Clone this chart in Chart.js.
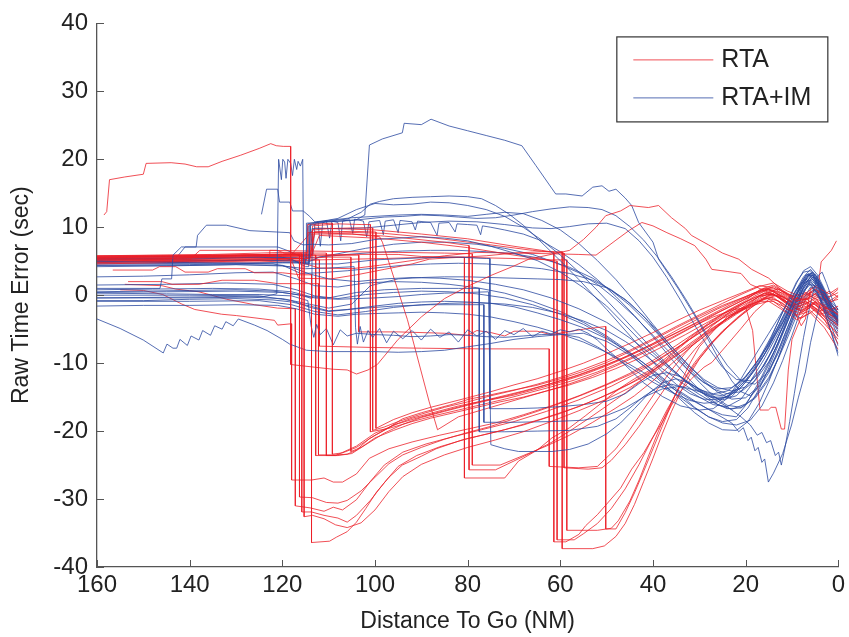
<!DOCTYPE html>
<html>
<head>
<meta charset="utf-8">
<title>Raw Time Error vs Distance To Go</title>
<script src="https://cdn.jsdelivr.net/npm/chart.js@4.4.1/dist/chart.umd.min.js"></script>
<style>
  html, body { margin: 0; padding: 0; background: #fff; }
  #wrap { width: 849px; height: 637px; }
</style>
</head>
<body>
<div id="wrap"><canvas id="chart" width="849" height="637"></canvas></div>
<script>
// axis setup
const xTicks = [160, 140, 120, 100, 80, 60, 40, 20, 0];
const yTicks = [40, 30, 20, 10, 0, -10, -20, -30, -40];
const legendLabels = ['RTA', 'RTA+IM'];

// RTA runs: [distance to go (NM), raw time error (sec)]
const rta01 = [[158.5,11.8],[157.9,12.3],[157.3,17.0],[154,17.4],[150,17.8],[149.4,19.4],[144,19.5],[141,19.3],[138.5,18.9],[136,18.9],[133,19.7],[129,20.6],[125,21.6],[122.5,22.3],[121.3,22.0],[119.8,21.9],[118.2,21.9],[118.2,-10.2],[113,-10.6],[109,-10.9],[106,-11.0],[104,-11.6],[101.5,-11.0],[99.5,-10.2],[95,-6.5],[90,-3.2],[85,-0.5],[80,1.3],[75,2.9],[70,4.3],[66.8,5.3],[62,6.0],[58,6.6],[55,8.2],[52.3,10.0],[50.2,11.7],[47,12.4],[45,13.2],[41,12.9],[38.8,13.2],[36,11.4],[33,9.8],[31.7,8.8],[28,7.4],[25,6.2],[21.5,5.3],[18.7,3.8],[15,2.5],[12,0.6],[9,-0.8],[6,-0.5],[3,-1.8],[0,-2.8]];
const rta02 = [[160,5.6],[150,5.7],[140,5.8],[130,5.9],[122,6.0],[116.3,6.0],[116.3,-29.7],[113.5,-29.8],[110.5,-30.5],[108,-30.6],[106,-30.2],[103,-28.8],[100,-26.8],[97,-24.8],[94,-23.5],[90,-22.4],[85,-21.2],[80,-20.2],[75,-19.3],[70,-18.2],[65,-17.1],[60,-15.9],[55,-14.6],[50,-13.2],[45,-11.7],[40,-9.9],[35,-7.8],[30,-5.6],[25,-3.4],[20,-1.9],[17,-0.8],[14,-0.3],[11,-2.1],[8,-2.6],[5,-1.2],[2,-4.2],[0,-6.1]];
const rta03 = [[160,5.3],[148,5.3],[138,5.6],[128,5.9],[120,6.1],[115.8,6.1],[115.8,-31.9],[113.7,-31.9],[111,-32.4],[108,-32.8],[106,-33.4],[104,-32.4],[101,-30.2],[98,-27.6],[95,-25.2],[91,-23.6],[86,-22.3],[80,-21.1],[72,-19.8],[64,-18.2],[56,-16.4],[48,-14.1],[42,-12.0],[36,-9.3],[31,-7.1],[26,-4.6],[22,-2.8],[18,-1.1],[15,-0.2],[12,-1.2],[9,-2.9],[6,-1.8],[3,-3.6],[0,-7.2]];
const rta04 = [[160,4.8],[150,4.9],[140,5.0],[130,5.2],[120,5.4],[115.3,5.4],[115.3,-32.6],[113.5,-32.4],[111,-32.9],[108.5,-33.8],[106,-34.2],[103,-33.5],[100,-31.6],[97,-28.9],[94,-26.7],[90,-24.9],[85,-23.5],[80,-22.4],[74,-21.3],[68,-20.1],[62,-18.6],[56,-17.0],[50,-15.3],[45,-13.6],[40,-11.4],[35,-8.9],[30,-6.3],[25,-3.9],[21,-2.2],[17,-0.4],[14,0.6],[11,-0.6],[8,-1.8],[5,-0.4],[2,-2.6],[0,-3.9]];
const rta05 = [[156.6,3.7],[148,3.7],[146.5,4.2],[143,4.2],[141,3.4],[136,3.4],[134,3.9],[128,3.9],[126,3.3],[120,3.3],[116,3.0],[113.7,3.0],[113.7,-36.4],[109.8,-36.2],[108.3,-35.6],[106,-34.8],[104,-33.4],[102,-31.4],[99.7,-29.0],[97,-26.8],[94.1,-25.0],[90,-23.7],[86.8,-22.6],[81.2,-21.3],[75,-20.3],[68,-19.1],[60,-17.4],[52,-15.3],[45,-13.0],[40,-11.0],[35,-8.6],[30,-6.1],[26,-4.3],[22,-2.6],[18,-1.4],[15,-0.9],[12,-2.2],[9,-3.6],[6,-2.6],[3,-4.8],[0,-8.0]];
const rta06 = [[153.3,2.0],[146,2.0],[143.8,1.6],[138,1.6],[133,2.2],[126,2.2],[121,1.7],[112.2,1.7],[112.2,-23.5],[108.4,-23.5],[106,-23.4],[104,-22.8],[101.2,-21.1],[97.5,-19.7],[94.1,-18.2],[90,-17.3],[86.8,-16.7],[83,-16.0],[79.7,-15.3],[76,-14.8],[72.6,-14.3],[69,-13.8],[65.3,-13.3],[60,-12.3],[55,-11.2],[50,-9.9],[45,-8.3],[40,-6.6],[35,-4.8],[30,-3.1],[25,-1.5],[20,-0.2],[16,0.9],[13,0.4],[10,-0.9],[7,0.2],[4,-0.8],[2,-2.2],[0,-1.6]];
const rta07 = [[160,5.0],[140,5.2],[137.8,6.6],[121.2,6.6],[119.5,6.2],[110.5,6.2],[110.5,-23.6],[108,-23.6],[105,-23.3],[102,-22.0],[98,-20.3],[94,-19.0],[90,-18.0],[85,-17.1],[80,-16.2],[75,-15.4],[70,-14.7],[65,-13.8],[60,-12.8],[55,-11.7],[50,-10.4],[45,-8.9],[40,-7.3],[35,-5.6],[30,-3.9],[25,-2.2],[21,-0.9],[17,0.5],[14,1.3],[11,0.2],[8,-0.6],[5,0.9],[2,-0.3],[0,0.4]];
const rta08 = [[160,5.8],[135,6.0],[120,6.3],[114.5,6.3],[114.5,10.4],[109.2,10.6],[109.2,-23.4],[107,-23.2],[104,-22.4],[100,-20.6],[96,-19.1],[92,-18.1],[87,-17.2],[82,-16.3],[77,-15.6],[72,-14.9],[67,-14.0],[62,-13.0],[57,-12.0],[52,-10.8],[47,-9.4],[42,-7.8],[37,-6.2],[32,-4.5],[27,-2.7],[23,-1.3],[19,0.0],[16,1.0],[13,0.9],[10,-0.4],[7,-0.6],[4,0.6],[2,-1.0],[0,-0.6]];
const rta09 = [[160,5.4],[130,5.6],[115,5.8],[113.5,5.8],[113.5,9.6],[110,9.8],[105,9.9],[100.5,9.9],[100.5,-19.9],[98,-19.4],[95,-18.6],[90,-17.5],[85,-16.5],[80,-15.7],[75,-14.8],[70,-14.0],[65,-13.1],[60,-12.1],[55,-10.9],[50,-9.6],[45,-8.1],[40,-6.4],[35,-4.6],[30,-2.9],[25,-1.2],[21,0.1],[17,1.3],[14,1.8],[11,0.6],[8,-0.2],[5,1.3],[2,0.2],[0,1.1]];
const rta10 = [[160,4.6],[145,4.8],[130,5.0],[116,5.4],[110,5.6],[105.2,5.6],[105.2,-23.0],[103,-22.4],[100,-21.0],[96,-19.9],[92,-18.9],[88,-18.1],[83,-17.3],[78,-16.5],[73,-15.7],[68,-15.0],[63,-14.1],[58,-13.2],[53,-12.1],[48,-10.8],[43,-9.3],[38,-7.6],[33,-5.8],[28,-3.9],[24,-2.4],[20,-1.0],[16,0.3],[13,-0.1],[10,-1.5],[7,-1.0],[4,-2.4],[2,-1.8],[0,-3.0]];
const rta11 = [[160,5.6],[125,5.9],[114.5,6.1],[114.5,9.2],[105,9.4],[99.8,9.3],[99.8,-19.6],[96,-18.3],[92,-17.3],[88,-16.5],[84,-15.8],[80,-15.1],[75,-14.2],[70,-13.2],[65,-12.3],[60,-11.2],[55,-10.0],[50,-8.6],[45,-7.1],[40,-5.5],[35,-3.8],[30,-2.2],[25,-0.8],[21,0.3],[17,1.4],[14,1.1],[11,-0.3],[8,-1.2],[5,0.2],[2,-1.3],[0,-0.2]];
const rta12 = [[160,5.2],[114,5.4],[113.8,9.0],[105,9.0],[99,8.6],[98.4,7.8],[93,-3.6],[88.3,-15.7],[86.5,-19.8],[82,-17.9],[77,-16.9],[72,-15.9],[66,-14.7],[60,-13.5],[54,-12.1],[48,-10.4],[42,-8.5],[36,-6.4],[31,-4.5],[26,-2.6],[22,-1.2],[18,0.2],[15,0.8],[12,-0.2],[9,-1.7],[6,-0.9],[3,-2.4],[0,-3.6]];
const rta13 = [[160,4.9],[125,5.1],[118,5.1],[116.5,2.5],[109.5,2.4],[104,3.0],[98,3.8],[92,4.6],[88.3,5.3],[84,5.5],[80.7,5.6],[80.7,-26.9],[72,-26.9],[69,-24.4],[65,-22.8],[61.8,-21.0],[58,-19.5],[54.5,-17.7],[51,-15.8],[47.4,-13.8],[44,-12.3],[40.3,-10.9],[36,-8.6],[32,-6.2],[28,-4.1],[24,-2.3],[20,-0.8],[17,0.8],[14,1.5],[11,0.3],[8,-0.9],[5,0.8],[2,-0.9],[0,0.0]];
const rta14 = [[160,5.5],[118,5.8],[114,5.8],[113,9.2],[105,9.0],[98,8.7],[92,8.3],[85,7.8],[79.7,7.3],[79.7,-25.7],[74,-25.7],[70,-24.4],[66,-23.1],[62,-21.7],[58,-20.0],[54,-18.2],[50,-16.3],[46,-14.4],[42,-12.3],[38,-10.0],[34,-7.6],[30,-5.3],[26,-3.3],[22,-1.7],[18,-0.3],[15,0.4],[12,-0.7],[9,-2.1],[6,-1.4],[3,-3.0],[0,-4.4]];
const rta15 = [[160,5.2],[122.7,5.6],[122.7,6.6],[105,6.4],[95,6.3],[85,6.2],[79,6.1],[79,-25.0],[73,-25.0],[68,-23.6],[63,-22.2],[58,-20.6],[53,-18.7],[48,-16.6],[44,-14.8],[40,-12.6],[36,-10.1],[32,-7.7],[28,-5.5],[24,-3.5],[20,-1.8],[17,-0.6],[14,0.2],[11,-1.0],[8,-2.2],[5,-0.9],[2,-2.8],[0,-3.4]];
const rta16 = [[160,5.4],[120,5.7],[103.5,5.9],[103.5,-5.4],[95,-5.4],[85,-5.6],[80,-5.9],[78,-5.2],[75,-5.5],[72,-6.0],[70,-5.3],[65,-5.3],[62,-5.8],[55,-5.0],[50.2,-4.6],[50.2,-34.4],[48,-34.4],[46,-32.0],[44,-29.1],[42,-25.9],[40,-22.6],[38,-19.3],[36,-16.0],[34,-12.8],[32,-10.0],[30,-7.6],[27,-5.3],[24,-3.2],[20,-1.7],[17,-0.1],[14,0.2],[11,-1.4],[8,-2.4],[5,-1.0],[2,-3.4],[0,-4.6]];
const rta17 = [[160,5.7],[118,6.0],[113,9.9],[100,9.6],[90,9.0],[80,8.3],[70,7.2],[64,6.6],[61.4,6.3],[61.4,-36.3],[58.8,-36.3],[56,-35.2],[54.5,-33.9],[52,-32.3],[50.2,-30.9],[47,-28.4],[44.6,-25.6],[42,-23.2],[40.3,-21.2],[38,-18.7],[36,-16.2],[34,-14.1],[31.7,-12.3],[29,-10.6],[27.3,-9.9],[24,-7.3],[21,-4.9],[18,-2.4],[15,-0.6],[12,-1.6],[9,-3.0],[6,-2.3],[3,-4.2],[0,-6.5]];
const rta18 = [[160,5.1],[120,5.4],[114,5.5],[112,8.8],[100,8.4],[90,7.8],[80,7.0],[70,5.9],[62,5.1],[60.7,5.0],[60.7,-36.0],[57,-36.0],[55,-35.1],[52,-33.6],[49,-31.4],[46,-28.5],[43,-24.9],[40,-20.9],[37,-16.9],[34,-13.2],[31,-10.2],[28,-7.6],[25,-5.3],[22,-3.4],[19,-1.7],[16,-0.4],[13,-0.8],[10,-2.2],[7,-1.2],[4,-2.8],[2,-2.4],[0,-3.7]];
const rta19 = [[160,4.7],[125,4.9],[116,5.1],[112,5.2],[98,5.4],[88,5.6],[81,5.6],[76,5.8],[70,6.2],[64,6.4],[59.6,6.4],[59.6,-37.3],[53,-37.3],[50.5,-36.9],[48,-35.5],[46,-33.6],[44,-30.8],[42,-27.4],[40,-24.0],[38,-20.4],[36,-17.1],[34,-14.2],[32,-11.6],[30,-9.4],[27,-6.9],[24,-4.8],[21,-3.0],[18,-1.4],[15,0.0],[12,-0.2],[9,-1.4],[6,-0.1],[3,-1.8],[0,-2.1]];
const rta20 = [[160,5.5],[118,5.9],[104,6.0],[95,6.0],[90,5.7],[83,5.6],[70,5.4],[62,5.2],[58.6,5.2],[58.6,-34.6],[52,-34.6],[49,-34.3],[47.5,-33.2],[45,-30.3],[43,-27.2],[41,-23.7],[39,-20.3],[37,-17.2],[35,-14.4],[33,-12.0],[31,-9.9],[28,-7.4],[25,-5.3],[22,-3.5],[19,-1.9],[16,-0.6],[13,0.1],[10,-1.1],[7,-0.5],[4,-1.9],[2,-1.1],[0,-2.6]];
const rta21 = [[160,5.3],[114,5.6],[113,9.4],[98,9.1],[87,8.4],[75,7.4],[66,6.6],[59.2,6.2],[59.2,-25.4],[54,-25.6],[51,-25.4],[49,-24.3],[46,-22.0],[43,-19.3],[40,-16.3],[37,-13.3],[34,-10.5],[31,-8.0],[28,-5.8],[25,-4.0],[22,-2.4],[19,-1.0],[16,0.3],[13,0.9],[10,-0.2],[7,0.4],[4,-0.5],[2,0.6],[0,-0.3]];
const rta22 = [[160,5.0],[118,5.2],[112,4.0],[105,3.9],[99,4.4],[92,5.1],[85,5.8],[78,6.3],[70,6.2],[62,6.1],[56,6.0],[52.3,5.9],[48,8.1],[45,9.6],[42.4,10.7],[40,10.2],[37,9.2],[34,8.3],[31,7.3],[28.6,5.3],[27.3,3.8],[24,3.5],[21,3.2],[19,1.6],[16,0.7],[13,-0.2],[10,-1.6],[7,-0.9],[4,-2.3],[2,-1.4],[0,-2.2]];
const rta23 = [[160,5.6],[117,5.9],[112.8,5.9],[112.8,-23.6],[108.5,-23.6],[104,-22.2],[100,-20.3],[95,-18.9],[90,-17.9],[85,-17.0],[80,-16.1],[74,-15.1],[68,-14.1],[62,-13.0],[56,-11.7],[50,-10.2],[45,-8.8],[40,-7.1],[35,-5.2],[30,-3.4],[26,-2.0],[22,-0.8],[18,0.4],[15,0.9],[12,-0.4],[9.5,-2.3],[8,-4.5],[7.1,-3.5],[6,1.0],[4.3,1.5],[3.7,4.9],[1.5,6.6],[0.4,8.0]];
const rta24 = [[160,5.8],[116,6.0],[113.5,6.0],[113.5,10.2],[108,10.5],[103,10.4],[101,10.4],[101,-20.1],[97,-19.6],[92,-18.6],[87,-17.7],[82,-16.9],[77,-16.1],[72,-15.3],[67,-14.4],[62,-13.5],[57,-12.5],[52,-11.3],[47,-9.9],[42,-8.3],[37,-6.6],[32,-4.8],[27,-3.2],[23,-2.2],[20,-1.8],[18.5,-5.2],[16.9,-16.9],[15.1,-16.9],[14.5,-16.5],[13.5,-16.5],[12.3,-19.7],[11.6,-19.7],[10.8,-11.0],[10,-6.5],[8,-3.2],[6,-1.6],[3,-3.2],[0,-5.0]];
const rta25 = [[160,5.0],[112,5.2],[112,-7.5],[100,-7.7],[90,-7.8],[77.5,-7.9],[62.4,-7.9],[62.4,-25.2],[56,-25.4],[52,-25.2],[48,-22.6],[45,-19.8],[42,-16.8],[39,-13.8],[36,-11.0],[33,-8.5],[30,-6.3],[27,-4.4],[24,-2.8],[21,-1.4],[18,-0.1],[15,0.9],[12,0.3],[9,-0.9],[6,0.5],[3,-0.8],[0,0.9]];
const rta26 = [[155,0.8],[150,0.7],[145.8,0.1],[141.7,-1.3],[138.9,-2.1],[133.1,-2.8],[129.9,-3.0],[121.7,-3.7],[121,-4.4],[118,-4.2],[118,-27.2],[113.7,-27.2],[111,-26.9],[109,-27.5],[107,-27.5],[104,-26.3],[101.2,-24.0],[97,-22.6],[92,-21.6],[86,-20.6],[80,-19.7],[74,-18.8],[68,-17.6],[62,-16.3],[56,-14.8],[50,-13.1],[45,-11.5],[40,-9.6],[35,-7.4],[30,-5.1],[25,-3.1],[21,-1.6],[17,-0.2],[14,0.2],[11,-1.3],[8,-2.3],[5,-1.1],[2,-3.1],[0,-4.2]];
const rta27 = [[154,1.6],[146,1.4],[143,0.9],[138,0.5],[132,-0.6],[126,-1.4],[121,-1.9],[117.2,-2.0],[117.2,-31.0],[114,-31.3],[111,-31.8],[109,-31.2],[107,-31.6],[104,-30.1],[101,-27.4],[98,-25.0],[94,-23.1],[89,-21.9],[83,-20.8],[77,-19.8],[70,-18.6],[63,-17.1],[56,-15.4],[49,-13.4],[43,-11.3],[38,-9.2],[33,-6.9],[28,-4.6],[24,-2.9],[20,-1.6],[17,-0.9],[14,-0.9],[11,-2.5],[8,-3.4],[5,-2.1],[2,-4.4],[0,-5.6]];

// RTA+IM runs
const imRun01 = [[160,-0.4],[140,-0.4],[130,-0.3],[124,-0.2],[121.2,0.2],[120.8,20.0],[120.2,17.0],[119.9,20.0],[119.5,19.6],[119.2,17.2],[118.8,20.0],[118.2,19.4],[117.8,17.6],[117.4,20.0],[116.9,18.5],[116.6,19.7],[116.1,19.0],[115.6,20.0],[115.4,4.6],[114.2,4.6],[114.0,10.4],[112,10.8],[108,10.9],[104,11.1],[103.5,11.3],[102.2,11.8],[101.2,22.1],[98.4,23.0],[94.1,23.9],[93.7,25.3],[90,25.1],[87.9,25.9],[84,24.9],[80,24.2],[76,23.5],[72,22.8],[68.3,22.0],[65.3,19.1],[61,14.9],[58.8,14.9],[55.3,14.6],[53,15.9],[51,16.1],[49.5,15.3],[48,15.6],[46,14.3],[44.6,13.2],[43.1,10.7],[40,7.8],[38.8,5.3],[34.5,0.9],[30.1,-4.0],[25.8,-9.4],[23,-12.6],[21,-14.2],[19,-14.8],[17,-13.5],[15,-11.4],[13,-8.2],[11,-4.8],[9,-1.6],[7.5,1.2],[6,2.8],[5,3.1],[3.5,1.4],[2,-0.8],[0,-2.6]];
const imRun02 = [[124.5,11.9],[123.4,15.6],[121,15.6],[120.6,13.7],[118.4,13.7],[117.8,12.4],[115.5,12.4],[114.1,11.6],[113,10.8],[110,11.0],[105,11.4],[100,11.6],[95,11.8],[90,11.9],[85,11.8],[80,11.6],[76,11.9],[72,12.2],[68,12.0],[64,11.0],[60,9.6],[56,7.6],[52,5.1],[48,2.3],[44,-0.9],[40,-4.3],[36,-7.6],[32,-10.5],[29,-12.4],[26,-13.6],[23,-14.1],[20,-13.5],[17,-11.3],[14,-7.8],[12,-4.6],[10,-1.3],[8,1.3],[6,2.6],[4.5,1.8],[3,-0.6],[1.5,-2.2],[0,-3.4]];
const imRun03 = [[160,1.0],[146.4,1.0],[146,2.4],[143.9,2.4],[143.6,5.9],[141.8,7.1],[138.6,7.1],[138.3,8.8],[136.4,10.3],[132.1,10.3],[127,9.5],[121.2,9.3],[118.4,9.2],[117.5,8.0],[115.5,7.4],[113.5,7.5],[110,7.4],[105,7.6],[100,8.2],[95,8.4],[90,8.6],[85,8.4],[80,8.0],[75,7.2],[70,6.2],[65,5.1],[60,3.4],[55,1.1],[50,-1.6],[46,-4.4],[42,-7.2],[38,-9.7],[34,-12.0],[31,-13.8],[28,-14.9],[25,-15.4],[22,-14.8],[19,-12.7],[16,-9.4],[13,-5.6],[11,-2.6],[9,0.2],[7,2.0],[5.5,2.3],[4,0.6],[2,-2.1],[0,-4.3]];
const imRun04 = [[160,-3.5],[155,-4.9],[150,-6.6],[145.7,-8.5],[144.9,-7.2],[143.6,-7.8],[142.8,-7.8],[142.1,-6.5],[140.5,-7.4],[139.7,-6.0],[138,-6.6],[137.2,-5.2],[135.5,-5.9],[134.6,-4.5],[133,-5.0],[132.2,-3.9],[130.6,-4.5],[129.5,-3.5],[126,-4.4],[123.3,-5.2],[120,-6.5],[118.4,-7.2],[114.8,-8.1],[110,-8.3],[104,-8.3],[100,-8.3],[95,-8.4],[90,-8.3],[85,-8.1],[80,-7.6],[75,-7.1],[70,-6.5],[65,-6.1],[60,-5.8],[55,-5.6],[50,-6.8],[45,-8.8],[40,-11.5],[36,-13.6],[32,-15.3],[28,-16.8],[25,-17.6],[22,-17.9],[20,-16.2],[17,-12.6],[14,-8.5],[12,-5.4],[10,-2.3],[8,0.3],[6,1.6],[4,-0.4],[2,-4.5],[0,-8.5]];
const imRun05 = [[160,-0.8],[150,-0.8],[140,-0.6],[130,-0.5],[122,-0.7],[118,-1.0],[114,-1.6],[110,-2.3],[106,-2.1],[100,-1.6],[95,-1.2],[90,-1.0],[85,-0.9],[80,-1.0],[75,-1.2],[70,-1.7],[65,-2.6],[60,-3.6],[55,-4.8],[50,-6.4],[45,-8.5],[40,-11.0],[35,-13.8],[30,-16.0],[26,-17.6],[23,-18.8],[21.5,-20.1],[20.5,-19.5],[19.5,-21.4],[18.8,-20.9],[18,-22.9],[17.3,-22.4],[16.5,-24.6],[15.9,-24.1],[15.1,-27.5],[14,-26.2],[12,-23.3],[10.1,-19.1],[8.6,-15.0],[7.1,-11.3],[6,-7.0],[5,-4.0],[4,-1.5],[3,0.4],[2,-0.9],[1,-2.6],[0,-4.0]];
const imRun06 = [[160,5.0],[150,4.9],[140,4.8],[130,4.7],[122,4.6],[118,4.1],[114,3.1],[110,2.4],[104,2.0],[98,2.4],[92,2.6],[86,2.5],[80,2.2],[74,1.6],[68,0.8],[62,-0.4],[56,-2.0],[50,-4.0],[45,-6.3],[40,-8.9],[35,-11.6],[31,-13.7],[27,-15.2],[24,-16.4],[21,-17.9],[19,-19.1],[17.5,-20.6],[16.5,-20.2],[15.5,-21.7],[14.6,-21.4],[13.6,-23.6],[12.9,-23.1],[12.3,-25.0],[11.5,-22.4],[10.5,-18.6],[9.5,-14.5],[8.5,-10.2],[7.5,-6.2],[6.5,-2.7],[5.5,0.2],[4.5,2.8],[3.5,3.4],[2.5,1.7],[1.2,-0.8],[0,-2.2]];
const imRun07 = [[160,4.4],[140,4.4],[130,4.5],[120,4.3],[115,3.9],[110,4.0],[104.5,4.2],[104.2,-4.8],[103.8,-7.2],[103.2,-4.6],[102.5,-6.9],[101.5,-5.2],[100.5,-6.2],[99,-4.9],[97.5,-7.0],[96,-5.3],[94,-6.4],[92,-5.2],[90,-6.6],[88,-5.0],[86,-6.2],[84,-5.4],[82,-6.9],[80,-5.1],[78,-6.0],[76,-5.3],[74,-6.5],[72,-5.2],[70,-5.8],[68,-4.9],[66,-6.1],[64,-5.3],[62,-5.7],[60,-5.1],[58,-5.4],[56,-5.0],[54,-5.6],[52,-6.6],[50,-7.9],[46,-10.3],[42,-12.9],[38,-14.9],[34,-16.3],[30,-16.9],[27,-16.7],[24,-15.2],[21,-12.3],[18,-8.9],[15,-5.6],[13,-3.4],[11,-1.2],[9,0.9],[7,2.4],[5,1.2],[3,-1.8],[1.5,-4.6],[0,-7.5]];
const imRun08 = [[160,0.3],[145,0.2],[135,0.1],[125,0.1],[118,-0.1],[115.5,-0.6],[114.5,-0.8],[113.8,-4.5],[113.2,-6.2],[112.6,-4.3],[111.8,-5.8],[110.5,-4.9],[109,-7.3],[107.5,-5.1],[106,-6.0],[104,-5.6],[100,-5.8],[96,-5.9],[92,-6.1],[88,-6.0],[84,-5.8],[80,-5.9],[76,-6.1],[72,-6.2],[68,-6.0],[64,-5.8],[60,-5.7],[56,-6.2],[52,-7.6],[48,-9.3],[44,-11.0],[40,-12.8],[36,-14.3],[32,-15.5],[29,-15.9],[26,-15.7],[23,-14.4],[20,-12.1],[17,-9.3],[14,-6.2],[12,-4.0],[10,-1.6],[8,0.6],[6.5,1.9],[5,0.8],[3.5,-1.0],[2,-3.0],[0,-5.4]];
const imRun09 = [[160,0.5],[150,0.6],[140,0.7],[130,0.8],[122,0.6],[117,0.1],[113,-0.4],[108,-0.6],[100,-0.4],[95,-0.2],[90,0.1],[85,0.3],[80,0.4],[75.5,0.5],[75,-22.0],[72,-22.6],[69,-23.0],[65,-23.0],[61.8,-23.0],[58,-22.7],[54,-21.9],[50,-20.4],[47,-18.8],[44,-16.7],[41,-14.5],[38,-12.9],[35,-12.3],[32,-13.0],[29,-14.3],[26,-15.2],[23,-14.9],[20,-12.8],[17,-9.9],[14,-6.4],[12,-3.9],[10,-1.2],[8,1.4],[6,3.3],[4.5,2.2],[3,0.3],[1.5,-2.0],[0,-3.6]];
const imRun10 = [[160,4.8],[140,5.0],[125,5.2],[118,5.0],[114,4.6],[108,4.6],[100,5.2],[90,5.5],[82,5.6],[76,5.4],[75.2,5.4],[75.2,-16.7],[70,-16.7],[65,-16.6],[60,-16.4],[55,-16.1],[50,-15.6],[46,-14.5],[43,-13.0],[40,-11.8],[37,-11.4],[34,-12.0],[31,-13.4],[28,-14.5],[25,-14.8],[22,-13.9],[19,-11.8],[16,-8.8],[13.5,-5.3],[11.5,-2.6],[9.5,0.3],[7.5,2.7],[6,3.8],[4.5,2.6],[3,0.6],[1.5,-1.3],[0,-2.8]];
const imRun11 = [[160,0.0],[140,0.0],[125,-0.1],[118,-0.8],[114,-1.8],[110,-2.4],[104,-2.0],[96,-1.6],[88,-1.4],[80,-1.4],[76.5,-1.4],[76.5,-18.7],[70,-18.7],[62,-18.6],[55,-18.4],[50,-17.7],[46,-16.6],[42,-15.0],[38,-13.8],[34,-13.4],[30,-14.2],[27,-15.0],[24,-15.0],[21,-13.6],[18,-11.0],[15,-7.7],[13,-4.9],[11,-2.2],[9,0.4],[7,2.6],[5.5,3.4],[4,1.9],[2.5,-0.3],[1,-1.9],[0,-3.0]];
const imRun12 = [[160,0.8],[148,0.9],[135,1.0],[125,0.9],[118,0.5],[114,-0.2],[110,-0.4],[104,0.4],[98,0.8],[90,1.0],[82,1.0],[77.5,1.0],[77.5,-20.1],[72,-20.1],[65,-20.0],[58,-19.9],[52,-19.3],[48,-18.2],[45,-16.6],[42,-14.9],[39,-13.6],[36,-13.1],[33,-13.7],[30,-15.0],[27,-16.1],[24,-16.4],[21,-15.3],[18,-12.5],[15,-9.0],[13,-6.1],[11,-3.4],[9,-0.8],[7,1.5],[5.5,2.7],[4,1.4],[2.5,-1.0],[1,-2.9],[0,-4.4]];
const imRun13 = [[160,5.2],[140,5.3],[125,5.6],[118,5.3],[115,4.2],[114.3,4.2],[114.3,10.2],[110,10.9],[106,11.2],[103,12.2],[101,13.4],[99,13.8],[96,14.2],[92,14.4],[88,14.5],[84,14.6],[80,14.5],[77,14.2],[74,13.2],[71,11.9],[68,10.3],[65,8.4],[62,6.4],[59,4.4],[56,2.3],[53,0.1],[50,-2.1],[47,-4.4],[44,-6.7],[41,-9.1],[38,-11.3],[35,-13.1],[32,-14.5],[29,-15.3],[26,-15.4],[23,-14.6],[20,-12.5],[17,-9.6],[14.5,-6.3],[12.5,-3.2],[10.5,-0.2],[9,2.0],[7.5,3.4],[6,3.6],[4.5,2.0],[3,-0.2],[1.5,-2.0],[0,-3.6]];
const imRun14 = [[160,4.6],[135,4.7],[120,4.8],[115,4.7],[114.5,10.5],[108,11.3],[104,12.6],[100,13.5],[96,13.3],[92,13.4],[88,13.7],[84,13.6],[80,13.2],[76,12.6],[72,11.6],[68,10.0],[64,8.1],[60,5.9],[56,3.4],[52,0.7],[48,-2.2],[44,-5.1],[40,-8.0],[36,-10.8],[33,-12.6],[30,-13.9],[27,-14.5],[24,-14.1],[21,-12.7],[18,-10.3],[15,-7.1],[13,-4.6],[11,-1.8],[9,0.8],[7,2.9],[5.5,3.3],[4,1.6],[2.5,-0.5],[1,-2.4],[0,-3.3]];
const imRun15 = [[160,5.4],[140,5.5],[125,5.6],[117,5.5],[114.8,5.2],[114.8,10.6],[105,11.0],[98,11.5],[94,11.6],[90,11.8],[86,11.7],[82,11.5],[78,11.3],[74,11.4],[70,11.8],[66,12.3],[62,12.7],[58,13.0],[54,12.9],[51,12.6],[48,11.7],[45,10.1],[42,8.1],[39,5.6],[36,2.7],[33,-0.5],[30,-3.9],[27,-7.3],[24,-10.3],[21,-12.6],[18,-13.1],[15,-11.2],[13,-8.6],[11,-5.3],[9,-2.0],[7.5,0.6],[6,2.2],[4.5,1.4],[3,-0.7],[1.5,-2.6],[0,-4.0]];
const imRun16 = [[160,0.4],[145,0.5],[130,0.6],[120,0.4],[116,0.0],[113.6,-0.5],[113.6,9.8],[106,9.8],[102,9.9],[96,10.3],[90,10.7],[84,10.9],[78,10.8],[72,10.4],[66,9.9],[62,9.8],[58,10.1],[54,10.5],[50,10.6],[46,9.8],[43,8.0],[40,5.6],[37,2.6],[34,-0.8],[31,-4.4],[28,-7.8],[25,-10.6],[22,-12.4],[19,-12.6],[16,-10.4],[14,-7.8],[12,-4.6],[10,-1.4],[8.5,1.2],[7,3.0],[5.5,2.9],[4,1.0],[2.5,-1.1],[1,-2.8],[0,-3.8]];
const imRun17 = [[160,-0.4],[145,-0.3],[130,-0.2],[120,-0.5],[115,-1.2],[110,-1.9],[105,-1.3],[101,1.4],[95,2.4],[90,2.6],[85,2.7],[80,2.7],[75,2.6],[70,2.5],[65,2.4],[60,2.3],[55,2.0],[50,1.1],[46,-0.6],[42,-3.1],[38,-6.3],[34,-9.8],[30,-12.8],[27,-14.8],[24,-16.2],[21,-16.5],[18,-15.2],[15,-12.4],[13,-9.3],[11,-5.8],[9,-2.4],[7.5,0.4],[6,2.0],[4.5,1.0],[3,-1.0],[1.5,-3.0],[0,-4.6]];
const imRun18 = [[160,4.2],[145,4.3],[130,4.5],[120,4.4],[116,3.2],[112,3.3],[106,3.6],[100,4.0],[94,4.4],[88,4.6],[82,4.7],[76,4.6],[70,4.3],[64,3.9],[58,3.2],[53,2.2],[49,0.8],[45,-1.2],[41,-3.8],[37,-6.8],[33,-9.9],[29,-12.6],[26,-14.3],[23,-15.3],[20,-15.1],[17,-13.3],[14.5,-10.4],[12.5,-7.4],[10.5,-4.0],[9,-1.2],[7.5,1.3],[6,2.6],[4.5,1.6],[3,-0.4],[1.5,-2.3],[0,-3.8]];
const imRun19 = [[160,-0.9],[140,-0.9],[125,-0.8],[118,-1.4],[113,-2.4],[108,-2.9],[102,-2.4],[96,-1.8],[90,-1.4],[84,-1.2],[78,-1.1],[72,-1.3],[66,-1.8],[60,-2.7],[55,-3.8],[50,-5.2],[46,-6.8],[42,-8.7],[38,-10.8],[34,-12.8],[30,-14.6],[27,-15.8],[24,-16.7],[21,-16.6],[18,-15.0],[15,-12.1],[13,-9.4],[11,-6.3],[9,-3.0],[7.5,-0.5],[6,1.2],[4.5,0.4],[3,-2.2],[1.5,-5.6],[0,-9.0]];
const imRun20 = [[160,5.6],[145,5.7],[130,5.8],[121,5.8],[117,5.0],[114,5.0],[112,5.6],[106,6.0],[100,6.3],[94,6.5],[88,6.6],[82,6.6],[76,6.4],[70,6.1],[64,5.4],[58,4.1],[53,2.5],[49,0.7],[45,-1.5],[41,-4.2],[37,-7.2],[33,-10.2],[30,-12.3],[27,-13.8],[24,-14.5],[21,-14.2],[18,-12.6],[15,-9.8],[13,-7.1],[11,-3.9],[9,-0.7],[7.5,1.7],[6,3.1],[4.5,2.3],[3,0.1],[1.5,-1.8],[0,-3.2]];
const imRun21 = [[160,1.5],[145,1.6],[132,1.8],[122,1.6],[117,0.8],[113,-0.1],[108,-0.5],[102,0.1],[96,0.4],[90,0.6],[84,0.5],[78,0.2],[72,-0.4],[66,-1.4],[60,-2.8],[55,-4.3],[50,-6.2],[46,-8.1],[42,-10.4],[38,-12.9],[34,-15.4],[31,-17.3],[28,-18.8],[25,-19.8],[22,-19.9],[19.5,-18.6],[17,-15.8],[15,-12.7],[13,-9.3],[11,-5.6],[9.5,-2.8],[8,-0.4],[6.5,1.6],[5,1.4],[3.5,-0.7],[2,-2.7],[0,-5.0]];
const imRun22 = [[160,2.7],[150,2.8],[140,3.0],[130,3.3],[122,3.4],[117,2.4],[113,1.4],[108,1.2],[102,1.8],[96,2.0],[90,1.9],[84,1.6],[78,1.1],[72,0.3],[66,-0.9],[60,-2.4],[55,-4.0],[50,-6.0],[46,-7.9],[42,-10.0],[38,-12.3],[34,-14.7],[31,-16.5],[28,-17.9],[25,-18.6],[22,-18.3],[19.5,-16.6],[17,-13.7],[15,-10.7],[13,-7.4],[11,-4.0],[9.5,-1.3],[8,1.0],[6.5,2.9],[5,2.5],[3.5,0.6],[2,-1.3],[0,-3.1]];
const imRun23 = [[160,-1.6],[150,-1.5],[140,-1.5],[130,-1.4],[121,-1.5],[117,-2.0],[113,-2.8],[108,-3.1],[104,-2.8],[100,-2.7],[95,-2.6],[90,-2.5],[85,-2.6],[80,-2.8],[75,-3.2],[70,-3.9],[65,-4.7],[60,-5.7],[55,-6.9],[50,-8.4],[46,-9.8],[42,-11.4],[38,-13.2],[34,-15.1],[31,-16.6],[28,-17.9],[25,-18.8],[22,-19.1],[19,-18.4],[16.5,-16.3],[14,-12.9],[12,-9.6],[10,-5.9],[8.5,-3.0],[7,-0.4],[5.5,0.8],[4,-0.6],[2.5,-2.7],[1,-4.6],[0,-6.1]];
const imRun24 = [[160,5.3],[150,5.4],[143,5.4],[141,7.1],[121,7.1],[119,6.6],[116,5.7],[113,5.5],[108,6.1],[102,6.9],[96,7.5],[90,7.8],[84,7.8],[78,7.5],[72,6.9],[66,6.0],[61,4.8],[56,3.3],[52,1.6],[48,-0.6],[44,-3.1],[40,-5.9],[36,-8.7],[32,-11.3],[29,-12.9],[26,-13.8],[23,-13.6],[20,-12.0],[17,-9.2],[14.5,-6.1],[12.5,-3.2],[10.5,-0.4],[9,1.8],[7.5,3.6],[6,4.2],[4.5,3.0],[3,0.9],[1.5,-1.0],[0,-2.1]];
const imRun25 = [[160,4.4],[140,4.5],[125,4.7],[117,4.8],[114.2,4.8],[114,10.2],[113.4,6.0],[113,10.4],[112.3,10.8],[111.8,7.2],[111.3,10.6],[110.5,11.0],[109.8,8.4],[109.3,10.9],[108,10.7],[107.4,8.0],[107,10.9],[105.5,11.1],[104.8,9.1],[104.4,11.2],[102.5,10.9],[101.8,8.6],[101.3,10.8],[99,11.0],[98.2,8.9],[97.8,10.9],[96,11.1],[95,9.2],[94.6,11.0],[92,10.8],[91.3,9.6],[90.8,10.9],[88,10.7],[86.6,8.8],[86.2,10.6],[84,10.7],[82.7,9.3],[82.3,10.5],[80,10.4],[78,10.3],[77.2,8.9],[76.8,10.2],[75,10.0],[72,9.6],[68,9.0],[64,8.0],[60,6.4],[56,4.5],[52,2.3],[48,-0.2],[44,-3.0],[40,-6.1],[36,-9.4],[32,-12.5],[29,-14.6],[26,-16.1],[23,-16.8],[20,-16.0],[17.5,-13.6],[15,-10.2],[13,-7.0],[11,-3.5],[9.5,-0.8],[8,1.6],[6.5,3.2],[5,2.2],[3.5,0.0],[2,-2.0],[0,-4.0]];

const rtaRuns = [rta01, rta02, rta03, rta04, rta05, rta06, rta07, rta08, rta09, rta10, rta11, rta12, rta13, rta14,
                 rta15, rta16, rta17, rta18, rta19, rta20, rta21, rta22, rta23, rta24, rta25, rta26, rta27];
const imRuns = [imRun01, imRun02, imRun03, imRun04, imRun05, imRun06, imRun07, imRun08, imRun09, imRun10, imRun11, imRun12,
                imRun13, imRun14, imRun15, imRun16, imRun17, imRun18, imRun19, imRun20, imRun21, imRun22, imRun23, imRun24, imRun25];

const RED = 'rgba(236, 30, 38, 0.78)';
const BLUE = 'rgba(44, 74, 160, 0.8)';
const AXIS_COLOR = '#555';
const TEXT_COLOR = '#222';
const FONT = "'Liberation Sans', Arial, Helvetica, sans-serif";

// interleave the two groups so neither one is completely hidden under the other
const datasets = [];
const n = Math.max(rtaRuns.length, imRuns.length);
for (let i = 0; i < n; i++) {
    if (i < rtaRuns.length) {
        datasets.push({ label: legendLabels[0], data: rtaRuns[i], borderColor: RED });
    }
    if (i < imRuns.length) {
        datasets.push({ label: legendLabels[1], data: imRuns[i], borderColor: BLUE });
    }
}
datasets.forEach(ds => {
    ds.borderWidth = 1;
    ds.pointRadius = 0;
    ds.fill = false;
    ds.tension = 0;
    ds.showLine = true;
});

// small ticks pointing into the plot, as in the original figure
const innerTicks = {
    id: 'innerTicks',
    afterDraw(chart) {
        const ctx = chart.ctx;
        const x = chart.scales.x, y = chart.scales.y;
        const area = chart.chartArea;
        ctx.save();
        ctx.strokeStyle = AXIS_COLOR;
        ctx.lineWidth = 1;
        ctx.beginPath();
        xTicks.forEach(v => {
            const px = Math.round(x.getPixelForValue(v)) + 0.5;
            ctx.moveTo(px, area.bottom);
            ctx.lineTo(px, area.bottom - 7);
        });
        yTicks.forEach(v => {
            const py = Math.round(y.getPixelForValue(v)) + 0.5;
            ctx.moveTo(area.left, py);
            ctx.lineTo(area.left + 7, py);
        });
        ctx.stroke();
        ctx.restore();
    }
};

// boxed legend inside the top-right corner
const boxLegend = {
    id: 'boxLegend',
    afterDraw(chart) {
        const ctx = chart.ctx;
        const area = chart.chartArea;
        const bx = area.right - 222, by = area.top + 13, bw = 211, bh = 85;
        ctx.save();
        ctx.fillStyle = '#fff';
        ctx.fillRect(bx, by, bw, bh);
        ctx.strokeStyle = '#333';
        ctx.lineWidth = 1.2;
        ctx.strokeRect(bx + 0.5, by + 0.5, bw, bh);
        const rows = [[legendLabels[0], RED, by + 23], [legendLabels[1], BLUE, by + 61]];
        ctx.font = '25px ' + FONT;
        ctx.textBaseline = 'middle';
        ctx.textAlign = 'left';
        rows.forEach(([text, color, ry]) => {
            ctx.strokeStyle = color;
            ctx.lineWidth = 1;
            ctx.beginPath();
            ctx.moveTo(bx + 17, ry + 0.5);
            ctx.lineTo(bx + 97, ry + 0.5);
            ctx.stroke();
            ctx.fillStyle = TEXT_COLOR;
            ctx.fillText(text, bx + 105, ry + 1);
        });
        ctx.restore();
    }
};

new Chart(document.getElementById('chart'), {
    type: 'line',
    data: { datasets: datasets },
    plugins: [innerTicks, boxLegend],
    options: {
        responsive: false,
        animation: false,
        events: [],
        layout: { padding: { left: 0, right: 9, top: 21, bottom: 0 } },
        plugins: {
            legend: { display: false },
            tooltip: { enabled: false }
        },
        scales: {
            x: {
                type: 'linear',
                reverse: true,
                min: 0,
                max: 160,
                afterFit: scale => { scale.height = 70; },
                afterBuildTicks: scale => { scale.ticks = xTicks.map(v => ({ value: v })); },
                grid: { display: false, drawTicks: false },
                border: { display: true, color: AXIS_COLOR, width: 1.3 },
                ticks: { font: { family: FONT, size: 24 }, color: TEXT_COLOR, padding: 4, maxRotation: 0 },
                title: {
                    display: true,
                    text: 'Distance To Go (NM)',
                    font: { family: FONT, size: 23 },
                    color: TEXT_COLOR,
                    padding: { top: 0, bottom: 2 }
                }
            },
            y: {
                type: 'linear',
                min: -40,
                max: 40,
                afterFit: scale => { scale.width = 97; },
                afterBuildTicks: scale => { scale.ticks = yTicks.map(v => ({ value: v })); },
                grid: { display: false, drawTicks: false },
                border: { display: true, color: AXIS_COLOR, width: 1.3 },
                ticks: { font: { family: FONT, size: 24 }, color: TEXT_COLOR, padding: 9 },
                title: {
                    display: true,
                    text: 'Raw Time Error (sec)',
                    font: { family: FONT, size: 23 },
                    color: TEXT_COLOR,
                    padding: { top: 8, bottom: 0 }
                }
            }
        }
    }
});
</script>
</body>
</html>
